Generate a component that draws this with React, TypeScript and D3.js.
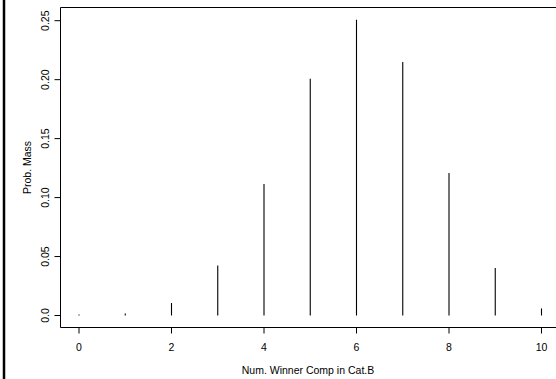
import { useEffect, useRef } from 'react';
import * as d3 from 'd3';

const counts = [0, 1, 2, 3, 4, 5, 6, 7, 8, 9, 10];
const probMass = [0.0002, 0.0017, 0.0106, 0.0425, 0.1115, 0.2007, 0.2508, 0.2150, 0.1209, 0.0403, 0.0060];

const yTicks = [0, 0.05, 0.1, 0.15, 0.2, 0.25];
const yTickLabels = ['0.0', '0.05', '0.10', '0.15', '0.20', '0.25'];
const xTicks = [0, 2, 4, 6, 8, 10];

const W = 556;
const H = 379;
const FONT = 'Liberation Sans, Arial, sans-serif';

export default function App() {
  const svgRef = useRef<SVGSVGElement>(null);

  useEffect(() => {
    if (!svgRef.current) return;
    const svg = d3.select(svgRef.current);
    svg.selectAll('*').remove();

    const frame = { left: 60.5, top: 7.5, bottom: 327.5, right: W + 2 };

    const x = d3.scaleLinear().domain([0, 10]).range([79, 541.5]);
    const y = d3.scaleLinear().domain([0, 0.25]).range([315.5, 20.7]);

    svg.append('rect').attr('width', W).attr('height', H).attr('fill', '#fff');

    // thick page border on the left
    svg.append('line')
      .attr('x1', 4).attr('x2', 4)
      .attr('y1', 0).attr('y2', H)
      .attr('stroke', '#000').attr('stroke-width', 2.5);

    // plot box (right side runs off the page)
    svg.append('path')
      .attr('d', `M${frame.right},${frame.top}H${frame.left}V${frame.bottom}H${frame.right}`)
      .attr('fill', 'none')
      .attr('stroke', '#000')
      .attr('stroke-width', 1);

    // probability spikes
    svg.selectAll('line.spike')
      .data(counts)
      .join('line')
      .attr('class', 'spike')
      .attr('x1', (d) => x(d)).attr('x2', (d) => x(d))
      .attr('y1', y(0))
      .attr('y2', (_, i) => Math.min(y(probMass[i]), y(0) - 1))
      .attr('stroke', '#000')
      .attr('stroke-width', 1.1);

    // y axis ticks + rotated labels
    const yAxis = svg.append('g');
    yTicks.forEach((t, i) => {
      yAxis.append('line')
        .attr('x1', frame.left - 6).attr('x2', frame.left)
        .attr('y1', y(t)).attr('y2', y(t))
        .attr('stroke', '#000');
      yAxis.append('text')
        .attr('transform', `translate(${frame.left - 12},${y(t)}) rotate(-90)`)
        .attr('text-anchor', 'middle')
        .style('font-family', FONT)
        .style('font-size', '10.5px')
        .style('fill', '#000')
        .text(yTickLabels[i]);
    });

    // x axis ticks + labels
    const xAxis = svg.append('g');
    xTicks.forEach((t) => {
      xAxis.append('line')
        .attr('x1', x(t)).attr('x2', x(t))
        .attr('y1', frame.bottom).attr('y2', frame.bottom + 6)
        .attr('stroke', '#000');
      xAxis.append('text')
        .attr('x', x(t))
        .attr('y', 351)
        .attr('text-anchor', 'middle')
        .style('font-family', FONT)
        .style('font-size', '10.5px')
        .style('fill', '#000')
        .text(String(t));
    });

    // axis titles
    svg.append('text')
      .attr('x', 308)
      .attr('y', 374)
      .attr('text-anchor', 'middle')
      .style('font-family', FONT)
      .style('font-size', '10.5px')
      .style('fill', '#000')
      .text('Num. Winner Comp in Cat.B');

    svg.append('text')
      .attr('transform', `translate(31,${(frame.top + frame.bottom) / 2}) rotate(-90)`)
      .attr('text-anchor', 'middle')
      .style('font-family', FONT)
      .style('font-size', '10.5px')
      .style('fill', '#000')
      .text('Prob. Mass');
  }, []);

  return (
    <div style={{ position: 'absolute', left: 0, top: 0 }}>
      <svg ref={svgRef} width={W} height={H} style={{ display: 'block' }} />
    </div>
  );
}
